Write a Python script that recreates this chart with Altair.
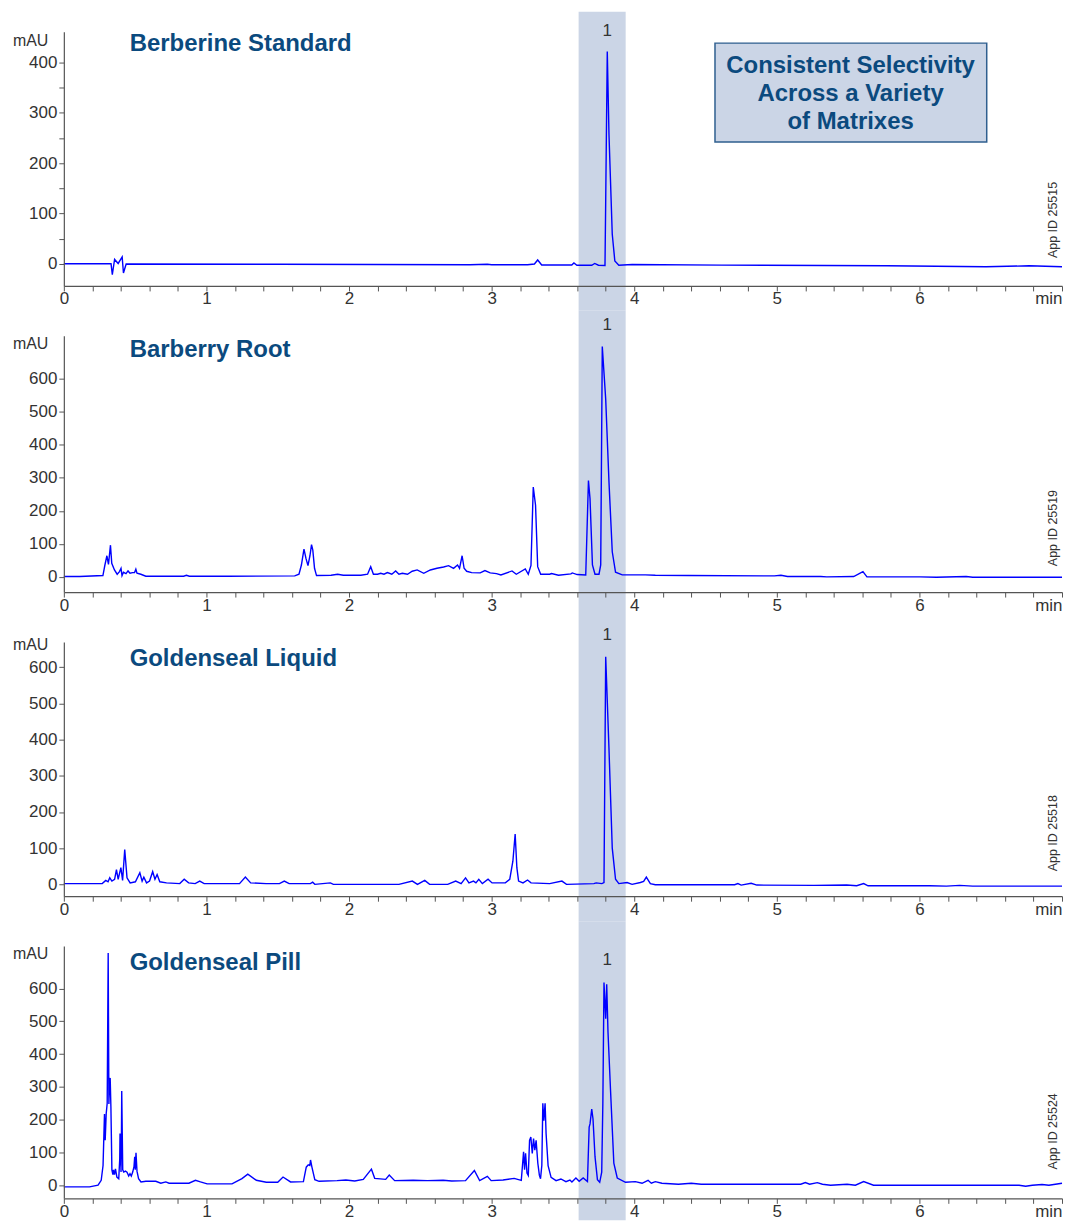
import altair as alt
import pandas as pd

FONT = "Liberation Sans"
W = 1001
LINE_COLOR = "#0000ff"
BAND_COLOR = "#cbd5e6"
TITLE_COLOR = "#0b4a7e"
AXIS_COLOR = "#555555"
TEXT_COLOR = "#333333"

band_range = [3.61, 3.94]
peak_label_time = 3.81
x_ticks = [round(i * 0.2, 1) for i in range(36)]

# ---- Berberine Standard ----
std_t = [0, 0.331, 0.34, 0.35, 0.356, 0.381, 0.409, 0.418, 0.437, 1.5, 2.848, 2.97, 3.0, 3.252,
         3.30, 3.323, 3.351, 3.562, 3.577, 3.598, 3.702, 3.723, 3.749, 3.795, 3.80, 3.811, 3.823,
         3.846, 3.864, 3.892, 3.985, 4.612, 5.771, 6.467, 6.769, 7.0]
std_v = [0.5, 0.5, -21, -2, 9, 1, 14, -18, 0, -0.5, -1.5, -0.5, -1.5, -1.5,
         0, 8, -2, -2, 2, -2.5, -2.5, 1, -2.5, -3, 125, 422, 257,
         59, 6, -2.5, -1, -2.3, -3.6, -5.6, -3.6, -5.6]

# ---- Barberry Root ----
bar_t = [0, 0.111, 0.274, 0.288, 0.302, 0.313, 0.327, 0.336, 0.355, 0.374, 0.39, 0.401, 0.408,
         0.418, 0.436, 0.45, 0.464, 0.482, 0.496, 0.505, 0.513, 0.54, 0.575, 0.84, 0.86, 0.88,
         1.155, 1.619, 1.649, 1.666, 1.684, 1.698, 1.712, 1.726, 1.737, 1.746, 1.758, 1.772,
         1.874, 1.92, 1.96, 2.083, 2.13, 2.152, 2.171, 2.2, 2.222, 2.245, 2.269, 2.3, 2.327,
         2.35, 2.374, 2.41, 2.443, 2.478, 2.524, 2.57, 2.617, 2.663, 2.698, 2.733, 2.761, 2.775,
         2.793, 2.807, 2.825, 2.86, 2.92, 2.953, 2.99, 3.034, 3.065, 3.143, 3.173, 3.236, 3.257,
         3.276, 3.292, 3.308, 3.323, 3.344, 3.407, 3.42, 3.469, 3.556, 3.566, 3.60, 3.66, 3.679,
         3.69, 3.707, 3.725, 3.753, 3.765, 3.776, 3.80, 3.823, 3.846, 3.869, 3.916, 4.078, 4.148,
         4.379, 4.983, 5.029, 5.075, 5.308, 5.35, 5.539, 5.604, 5.632, 6.004, 6.119, 6.328,
         6.374, 7.0]
bar_v = [1, 1, 4, 36, 64, 38, 96, 41, 21, 8, 16, 26, 4,
         14, 10, 18, 11, 13, 13, 23, 11, 8, 2, 2, 5, 2,
         2, 3, 8, 36, 84, 56, 34, 64, 98, 81, 26, 4,
         5, 8, 5, 5, 8, 31, 8, 8, 11, 8, 13, 8, 18,
         8, 11, 8, 17, 21, 11, 21, 26, 30, 34, 26, 36, 26,
         64, 26, 17, 13, 12, 19, 12, 10, 6, 18, 8, 24, 8,
         35, 272, 217, 31, 8, 8, 10, 5, 9, 12, 7, 6, 292,
         237, 36, 8, 8, 36, 698, 538, 287, 76, 14, 6, 6, 5,
         4, 3, 5, 1, 1, 0, 1, 16, 0, 0, -1, 1,
         -1, -1]

# ---- Goldenseal Liquid ----
liq_t = [0, 0.269, 0.294, 0.31, 0.322, 0.337, 0.356, 0.369, 0.381, 0.40, 0.412, 0.427, 0.443,
         0.465, 0.502, 0.533, 0.549, 0.561, 0.58, 0.601, 0.623, 0.639, 0.654, 0.673, 0.72, 0.813,
         0.844, 0.875, 0.921, 0.953, 0.984, 1.232, 1.273, 1.31, 1.419, 1.512, 1.546, 1.58, 1.729,
         1.745, 1.76, 1.869, 1.89, 2.35, 2.444, 2.48, 2.531, 2.565, 2.692, 2.748, 2.786, 2.817,
         2.841, 2.873, 2.89, 2.91, 2.935, 2.975, 3.003, 3.096, 3.127, 3.149, 3.165, 3.177, 3.189,
         3.22, 3.252, 3.276, 3.407, 3.493, 3.525, 3.717, 3.733, 3.773, 3.788, 3.80, 3.823, 3.846,
         3.869, 3.892, 3.95, 3.985, 4.043, 4.066, 4.085, 4.113, 4.148, 4.704, 4.727, 4.75, 4.82,
         4.86, 5.26, 5.49, 5.56, 5.609, 5.64, 6.073, 6.189, 6.282, 6.374, 7.0]
liq_v = [2, 2, 11, 7, 18, 9, 14, 41, 14, 46, 11, 96, 18,
         4, 7, 32, 9, 20, 4, 9, 35, 14, 27, 7, 4, 2,
         14, 4, 2, 9, 2, 2, 20, 4, 2, 2, 9, 2, 2,
         6, 0, 4, 0, 0, 9, 0, 11, 0, 0, 9, 2, 18,
         4, 9, 4, 14, 2, 14, 4, 4, 14, 64, 139, 46, 9,
         4, 12, 4, 2, 9, 0, 2, 4, 2, 5, 629, 374, 100,
         14, 2, 5, 0, 5, 8, 20, 2, -1, -1, 2, -2, 3,
         -2, -3, -2, -4, 2, -4, -4, -5, -3, -5, -5]

# ---- Goldenseal Pill ----
pill_t = [0, 0.18, 0.24, 0.262, 0.275, 0.285, 0.29, 0.297, 0.304, 0.311, 0.316, 0.321, 0.325,
          0.33, 0.337, 0.344, 0.348, 0.355, 0.362, 0.372, 0.385, 0.392, 0.394, 0.398, 0.401,
          0.404, 0.406, 0.41, 0.413, 0.42, 0.432, 0.443, 0.455, 0.464, 0.473, 0.483, 0.492,
          0.497, 0.501, 0.506, 0.513, 0.524, 0.541, 0.575, 0.645, 0.680, 0.715, 0.738, 0.877,
          0.923, 0.958, 1.005, 1.179, 1.249, 1.29, 1.35, 1.42, 1.50, 1.537, 1.59, 1.68, 1.70,
          1.714, 1.725, 1.73, 1.739, 1.76, 1.79, 1.916, 1.978, 2.04, 2.10, 2.157, 2.18, 2.257,
          2.282, 2.32, 2.45, 2.55, 2.66, 2.72, 2.817, 2.879, 2.916, 2.97, 2.997, 3.08, 3.158,
          3.208, 3.224, 3.231, 3.238, 3.248, 3.257, 3.266, 3.275, 3.285, 3.294, 3.303, 3.312,
          3.324, 3.335, 3.343, 3.352, 3.359, 3.366, 3.375, 3.382, 3.396, 3.417, 3.452, 3.486,
          3.521, 3.549, 3.563, 3.591, 3.614, 3.642, 3.672, 3.684, 3.69, 3.702, 3.711, 3.725,
          3.742, 3.758, 3.772, 3.780, 3.788, 3.80, 3.807, 3.816, 3.834, 3.857, 3.881, 3.939,
          4.008, 4.055, 4.097, 4.12, 4.148, 4.194, 4.31, 4.40, 4.47, 5.168, 5.2, 5.23, 5.284,
          5.32, 5.377, 5.493, 5.551, 5.609, 5.678, 6.699, 6.745, 6.792, 6.86, 6.908, 7.0]
pill_v = [-5, -5, 0, 15, 60, 217, 137, 218, 250, 708, 248, 320, 327,
          240, 47, 32, 47, 32, 50, 25, 20, 80, 158, 100, 40,
          150, 287, 150, 47, 40, 43, 40, 28, 35, 28, 40, 57,
          87, 47, 99, 43, 20, 10, 12, 12, 6, 10, 6, 6,
          15, 10, 4, 4, 20, 34, 15, 9, 9, 25, 10, 11, 55,
          62, 60, 77, 57, 17, 12, 14, 16, 13, 18, 49, 21, 18,
          31, 14, 15, 14, 15, 13, 14, 45, 14, 27, 14, 16, 21,
          15, 102, 47, 97, 37, 30, 137, 147, 97, 142, 107, 137,
          67, 30, 20, 60, 250, 197, 250, 157, 60, 24, 14, 19,
          11, 16, 10, 22, 12, 22, 11, 177, 187, 232, 202, 87,
          17, 9, 40, 250, 618, 508, 613, 468, 288, 67, 22, 9,
          11, 6, 15, 6, 11, 6, 3, 6, 3, 3, 8, 3, 8,
          3, 0, 3, 0, 11, 0, 0, -3, 0, 2, 0, 6]

panel_names = ["Berberine Standard", "Barberry Root", "Goldenseal Liquid", "Goldenseal Pill"]
app_ids = ["App ID 25515", "App ID 25519", "App ID 25518", "App ID 25524"]
series_t = [std_t, bar_t, liq_t, pill_t]
series_v = [std_v, bar_v, liq_v, pill_v]
y_domains = [[-43.6, 461.4], [-46, 730.4], [-32.8, 670.3], [-40, 729.3]]
y_ticks = [[0, 50, 100, 150, 200, 250, 300, 350, 400],
           [0, 100, 200, 300, 400, 500, 600],
           [0, 100, 200, 300, 400, 500, 600],
           [0, 100, 200, 300, 400, 500, 600]]
box_lines = "Consistent Selectivity\nAcross a Variety\nof Matrixes"

# layout (pixels)
heights = [255, 257, 255, 253]
SPACING = 50
band_top = [-20, -25, -25, -25]
band_bottom_ext = [25, 25, 25, 22]
title_y = [19, 21, 24, 24]
one_y = [-1, -11, -7, 14]
app_from_bottom = [28, 26, 25, 29]
mau_y = [9, 8, 3, 7]
PAD = {"left": 4, "top": 2, "right": 0, "bottom": 0}


def panel(i):
    h = heights[i]
    df = pd.DataFrame({"t": series_t[i], "v": series_v[i]})
    one = pd.DataFrame({"k": [0]})
    band_df = pd.DataFrame({"x0": [band_range[0]], "x1": [band_range[1]]})

    xaxis = alt.Axis(
        values=x_ticks, tickCount=60,
        labelExpr="datum.value == 7 ? 'min' : (abs(datum.value - round(datum.value)) < 0.001 ? format(datum.value, 'd') : '')",
        labelAlign={"condition": {"test": "datum.value == 7", "value": "right"}, "value": "center"},
        labelOverlap=False, labelBound=False, labelFlush=False,
        grid=False, tickSize=5, tickColor=AXIS_COLOR, domainColor=AXIS_COLOR,
        domainWidth=1.2, tickWidth=1, labelFont=FONT, labelFontSize=17,
        labelColor=TEXT_COLOR, labelPadding=0, zindex=1,
    )
    yaxis = alt.Axis(
        values=y_ticks[i], tickCount=30,
        labelExpr="datum.value % 100 == 0 ? format(datum.value, 'd') : ''",
        labelOverlap=False, grid=False, tickSize=5, tickColor=AXIS_COLOR,
        domainColor=AXIS_COLOR, domainWidth=1.2, tickWidth=1, labelFont=FONT,
        labelFontSize=17, labelColor=TEXT_COLOR, labelPadding=2, zindex=1,
        title="mAU", titleAngle=0, titleAlign="right", titleBaseline="middle",
        titleX=-16, titleY=mau_y[i], titleFont=FONT, titleFontSize=16,
        titleFontWeight="normal", titleColor=TEXT_COLOR,
    )
    xscale = alt.Scale(domain=[0, 7], nice=False, zero=False)

    band = alt.Chart(band_df).mark_rect(color=BAND_COLOR, opacity=1).encode(
        x=alt.X("x0:Q", scale=xscale, axis=xaxis, title=None),
        x2="x1:Q",
        y=alt.value(band_top[i]),
        y2=alt.value(h + band_bottom_ext[i]),
    )
    line = alt.Chart(df).mark_line(color=LINE_COLOR, strokeWidth=1.4).encode(
        x=alt.X("t:Q", scale=xscale, axis=xaxis, title=None),
        y=alt.Y("v:Q", scale=alt.Scale(domain=y_domains[i], nice=False, zero=False), axis=yaxis),
    )
    title = alt.Chart(one).mark_text(
        align="left", baseline="alphabetic", font=FONT, fontSize=24,
        fontWeight="bold", color=TITLE_COLOR,
    ).encode(x=alt.value(66), y=alt.value(title_y[i]), text=alt.value(panel_names[i]))
    peak_df = pd.DataFrame({"t": [peak_label_time], "lab": ["1"]})
    peak = alt.Chart(peak_df).mark_text(
        align="center", baseline="middle", font=FONT, fontSize=17, color=TEXT_COLOR,
    ).encode(x="t:Q", y=alt.value(one_y[i]), text="lab:N")
    app = alt.Chart(one).mark_text(
        align="left", baseline="middle", angle=270, font=FONT, fontSize=12.5, color=TEXT_COLOR,
    ).encode(x=alt.value(W - 9.5), y=alt.value(h - app_from_bottom[i]), text=alt.value(app_ids[i]))

    layers = [band, line, title, peak, app]
    if i == 0:
        box = alt.Chart(one).mark_rect(fill=BAND_COLOR, stroke="#2f5f8f", strokeWidth=1.5).encode(
            x=alt.value(653), x2=alt.value(925.5), y=alt.value(11.5), y2=alt.value(110.7)
        )
        box_text = alt.Chart(one).mark_text(
            align="center", baseline="alphabetic", font=FONT, fontSize=24,
            fontWeight="bold", color=TITLE_COLOR, lineBreak="\n", lineHeight=28.2,
        ).encode(x=alt.value(789), y=alt.value(41.7), text=alt.value(box_lines))
        layers += [box, box_text]
    return alt.layer(*layers).properties(width=W, height=h)


chart = (
    alt.vconcat(*[panel(i) for i in range(4)], spacing=SPACING, bounds="flush")
    .properties(padding=PAD)
    .configure_view(strokeWidth=0)
)

chart.save("out.html", embed_options={"renderer": "svg", "actions": False})
